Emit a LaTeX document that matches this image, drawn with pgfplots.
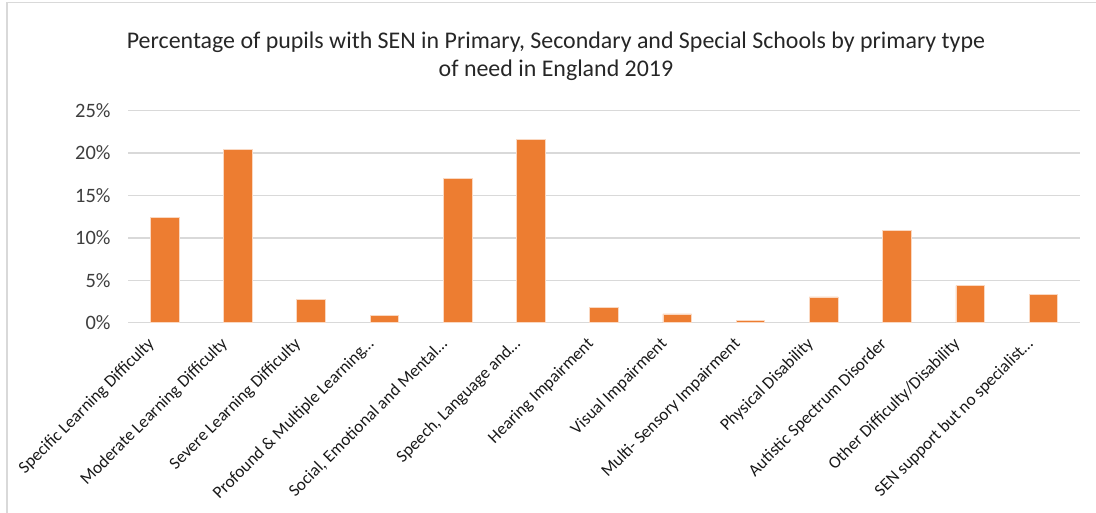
\documentclass[border=0pt]{standalone}
\usepackage{pgfplots}
\pgfplotsset{compat=1.18}
\usepackage{fontspec}
\setmainfont{Carlito}
\definecolor{barorange}{HTML}{ED7D31}
\definecolor{gridgray}{HTML}{D9D9D9}
\definecolor{labelgray}{HTML}{595959}
\begin{document}
\begin{tikzpicture}[x=1bp,y=1bp]
\path[use as bounding box] (0,0) rectangle (1096,513);
\draw[gridgray, line width=1.5bp] (7,0) -- (7,510.3) -- (1096,510.3);
\node[font=\fontsize{24}{28}\selectfont, align=center, text=black!85] at (556,456.5)
  {Percentage of pupils with SEN in Primary, Secondary and Special Schools by primary type\\of need in England 2019};
\begin{axis}[
  at={(128bp,190.3bp)}, anchor=south west,
  scale only axis, width=952bp, height=212bp,
  xmin=-0.5, xmax=12.5, ymin=0, ymax=25,
  ytick={0,5,10,15,20,25},
  yticklabel={\pgfmathprintnumber{\tick}\%},
  /pgf/number format/assume math mode=true,
  xtick={0,1,2,3,4,5,6,7,8,9,10,11,12},
  xticklabels={Specific Learning Difficulty, Moderate Learning Difficulty, Severe Learning Difficulty, Profound \& Multiple Learning\ldots, {Social, Emotional and Mental\ldots}, {Speech, Language and\ldots}, Hearing Impairment, Visual Impairment, Multi- Sensory Impairment, Physical Disability, Autistic Spectrum Disorder, Other Difficulty/Disability, SEN support but no specialist\ldots},
  x tick label style={xshift=-12bp, yshift=-18bp, rotate=45, anchor=east, font=\fontsize{17.3}{20}\selectfont, text=black!90, inner sep=1bp},
  y tick label style={font=\fontsize{20.5}{24}\selectfont, text=labelgray!70!black, xshift=-14bp},
  axis line style={draw=none},
  axis x line*=bottom,
  major tick length=0pt,
  ymajorgrids, grid style={gridgray, line width=1.5bp},
  ybar, bar width=28.6bp,
]
\addplot[fill=barorange, draw=white!70!barorange, line width=0.6bp] coordinates {
(0,12.43) (1,20.4) (2,2.76) (3,0.9) (4,17.06) (5,21.66) (6,1.85) (7,1.03) (8,0.3) (9,3.03) (10,10.9) (11,4.36) (12,3.35)};
\end{axis}
\end{tikzpicture}
\end{document}
